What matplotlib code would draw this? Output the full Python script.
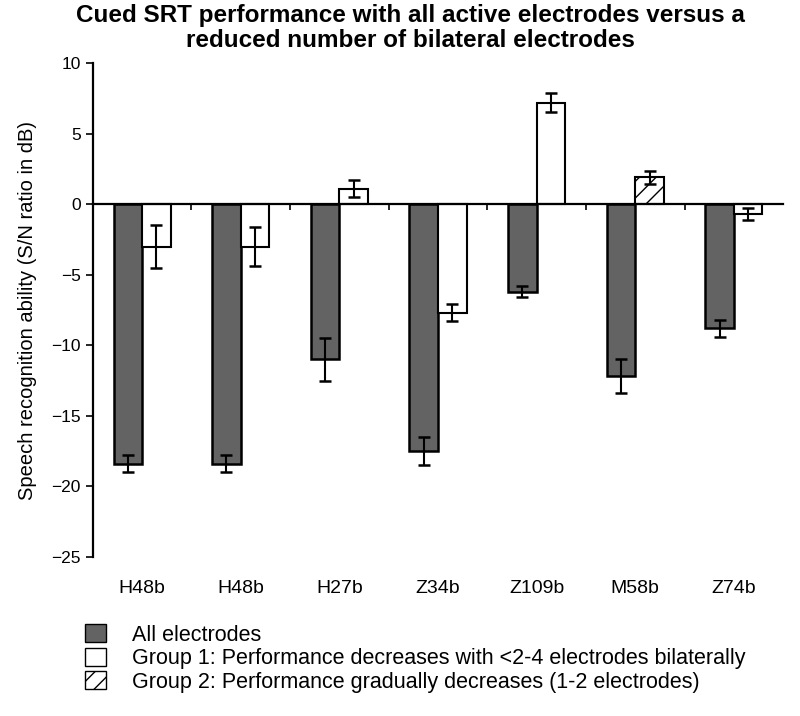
import matplotlib.pyplot as plt
from matplotlib.patches import Patch
import numpy as np

plt.rcParams['font.family'] = ['Liberation Sans', 'DejaVu Sans']

subjects = ["H48b", "H48b", "H27b", "Z34b", "Z109b", "M58b", "Z74b"]
all_vals = [-18.4, -18.4, -11.0, -17.5, -6.2, -12.2, -8.8]
all_err = [0.6, 0.6, 1.5, 1.0, 0.4, 1.2, 0.6]
reduced_vals = [-3.0, -3.0, 1.1, -7.7, 7.2, 1.9, -0.7]
reduced_err = [1.5, 1.35, 0.6, 0.6, 0.65, 0.45, 0.4]
reduced_group = [1, 1, 1, 1, 1, 2, 1]

x = np.arange(len(subjects))
w = 0.29

fig = plt.figure(figsize=(8, 7.16), dpi=100)
ax = fig.add_axes([0.116, 0.222, 0.863, 0.69])

ax.bar(x - w / 2, all_vals, w, color="#636363", edgecolor="black", linewidth=1.8,
       yerr=all_err, error_kw=dict(ecolor="black", elinewidth=1.5, capsize=4, capthick=1.8))
hatches = ["" if g == 1 else "//" for g in reduced_group]
bars = ax.bar(x + w / 2, reduced_vals, w, color="white", edgecolor="black", linewidth=1.5,
              yerr=reduced_err, error_kw=dict(ecolor="black", elinewidth=1.5, capsize=4, capthick=1.8))
for b, h in zip(bars, hatches):
    b.set_hatch(h)

ax.set_xlim(-0.5, len(subjects) - 0.5)
ax.set_ylim(-25, 10)
ax.set_yticks(np.arange(-25, 11, 5))
ax.tick_params(axis="y", direction="out", length=5, width=1.2, labelsize=12.5)

ax.spines["top"].set_visible(False)
ax.spines["right"].set_visible(False)
ax.spines["left"].set_linewidth(1.6)
ax.spines["bottom"].set_position(("data", 0))
ax.spines["bottom"].set_linewidth(1.6)
ax.set_xticks(x[:-1] + 0.5)
ax.set_xticklabels([])
ax.tick_params(axis="x", direction="out", length=4, width=1.2)

for xi, s in zip(x, subjects):
    ax.text(xi, -0.063, s, transform=ax.get_xaxis_transform(), ha="center", va="center", fontsize=14)

ax.set_ylabel("Speech recognition ability (S/N ratio in dB)", fontsize=14.5, labelpad=10)
fig.suptitle("Cued SRT performance with all active electrodes versus a\nreduced number of bilateral electrodes",
             x=0.5125, y=0.995, fontsize=17.5, fontweight="bold", linespacing=1.15, va="top")

handles = [Patch(facecolor="#636363", edgecolor="black"),
           Patch(facecolor="white", edgecolor="black"),
           Patch(facecolor="white", edgecolor="black", hatch="//")]
labels = ["All electrodes",
          "Group 1: Performance decreases with <2-4 electrodes bilaterally",
          "Group 2: Performance gradually decreases (1-2 electrodes)"]
fig.legend(handles, labels, loc="upper left", bbox_to_anchor=(0.095, 0.14), frameon=False,
           fontsize=15.5, handlelength=1.0, handleheight=0.9, handletextpad=1.2,
           labelspacing=0.1, borderaxespad=0)

fig.savefig("out.png", dpi=100)
